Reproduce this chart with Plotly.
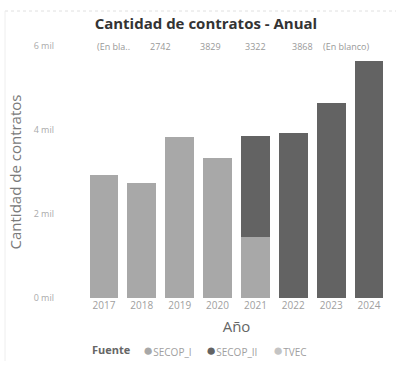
import plotly.graph_objects as go

years = ["2017", "2018", "2019", "2020", "2021", "2022", "2023", "2024"]
secop_i = [2929, 2742, 3829, 3322, 1450, 0, 0, 0]
secop_ii = [0, 0, 0, 0, 2418, 3929, 4643, 5643]
tvec = [0, 0, 0, 0, 0, 0, 0, 0]
series_names = ["SECOP_I", "SECOP_II", "TVEC"]
top_labels = ["(En bla..", "2742", "3829", "3322", "3868", "(En blanco)"]
y_tick_vals = [0, 2000, 4000, 6000]
y_tick_text = ["0 mil", "2 mil", "4 mil", "6 mil"]

colors = {"SECOP_I": "#a8a8a8", "SECOP_II": "#636363", "TVEC": "#c4c4c4"}

PL, PW = 85, 303  # plot left / width in px


def px_to_paper(px):
    return (px - PL) / PW


label_px = [113, 160, 210, 255, 302, 346]
legend_item_px = [141, 204, 271]

fig = go.Figure()
for name, vals in zip(series_names, [secop_i, secop_ii, tvec]):
    fig.add_trace(go.Bar(x=years, y=vals, name=name, marker_color=colors[name],
                         marker_line_width=0, showlegend=False))

for txt, px in zip(top_labels, label_px):
    fig.add_annotation(text=txt, x=px_to_paper(px), xanchor="center", y=1.0,
                       xref="paper", yref="paper", yanchor="middle", showarrow=False,
                       font=dict(size=9, color="#999999"))

# legend row (Power BI style)
fig.add_annotation(text="<b>Fuente</b>", x=px_to_paper(90), xanchor="left", y=-0.206,
                   yanchor="middle", xref="paper", yref="paper", showarrow=False,
                   font=dict(size=11, color="#666666"))
for name, px in zip(series_names, legend_item_px):
    fig.add_annotation(
        text=f"<span style='color:{colors[name]};font-size:17px'>●</span>{name}",
        x=px_to_paper(px), xanchor="left", y=-0.206, yanchor="middle",
        xref="paper", yref="paper", showarrow=False,
        font=dict(size=10, color="#a0a0a0"))

fig.update_layout(
    barmode="stack",
    bargap=0.24,
    width=396, height=365,
    margin=dict(l=PL, r=396 - PL - PW, t=46, b=67, autoexpand=False),
    paper_bgcolor="white", plot_bgcolor="white",
    font=dict(family="Open Sans, Noto Sans, sans-serif", color="#888888"),
    title=dict(text="<b>Cantidad de contratos - Anual</b>", x=0.52, xanchor="center",
               y=1 - 24 / 365, yanchor="middle", font=dict(size=15, color="#333333")),
    showlegend=False,
)
fig.update_xaxes(type="category", showgrid=False, zeroline=False, showline=False,
                 automargin=False,
                 tickfont=dict(size=10, color="#a0a0a0"), ticks="",
                 title=dict(text="Año", standoff=10, font=dict(size=15, color="#666666")))
fig.update_yaxes(range=[0, 6000], tickvals=y_tick_vals, ticktext=y_tick_text,
                 showgrid=False, zeroline=False, showline=False, ticks="",
                 automargin=False,
                 ticklabelstandoff=30, tickfont=dict(size=9, color="#aaaaaa"),
                 title=dict(text="Cantidad de contratos", standoff=8,
                            font=dict(size=15, color="#7a7a7a")))

fig.add_shape(type="line", xref="paper", yref="paper", x0=px_to_paper(5), x1=px_to_paper(396),
              y0=1 + 35 / 252, y1=1 + 35 / 252, line=dict(color="#e0e0e0", width=1, dash="dot"))
fig.add_shape(type="line", xref="paper", yref="paper", x0=px_to_paper(5), x1=px_to_paper(5),
              y0=1 + 35 / 252, y1=-0.25, line=dict(color="#eeeeee", width=1))

fig.write_html("out.html", config={"displayModeBar": False},
               post_script="document.body.style.margin='0';")
